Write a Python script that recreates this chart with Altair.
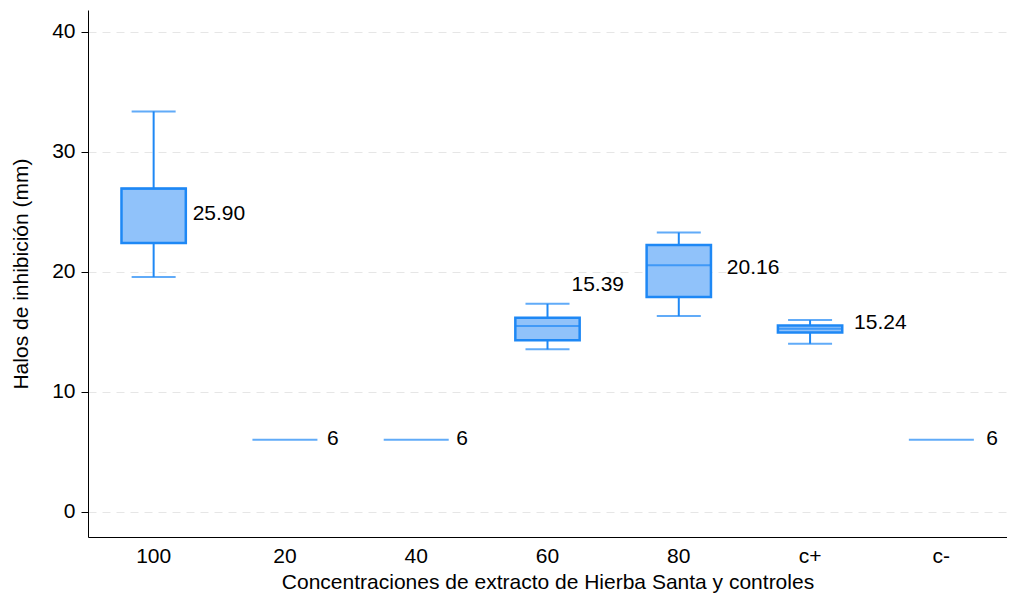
import altair as alt
import pandas as pd

groups = ["100", "20", "40", "60", "80", "c+", "c-"]
wlow = [19.55, 6, 6, 13.53, 16.3, 14.0, 6]
q1 = [22.4, 6, 6, 14.3, 17.9, 14.94, 6]
med = [26.9, 6, 6, 15.47, 20.54, 15.24, 6]
q3 = [26.94, 6, 6, 16.16, 22.23, 15.52, 6]
whigh = [33.35, 6, 6, 17.32, 23.26, 15.97, 6]
has_box = [True, False, False, True, True, True, False]

label_text = ["25.90", "6", "6", "15.39", "20.16", "15.24", "6"]
label_y = [24.8, 6.1, 6.1, 18.9, 20.3, 15.7, 6.1]
label_dx = [39, 42, 40, 24, 48, 44, 45]

df = pd.DataFrame({"g": groups, "lo": wlow, "q1": q1, "med": med, "q3": q3,
                   "hi": whigh, "box": has_box})
lab = pd.DataFrame({"g": groups, "t": label_text, "y": label_y})

FONT = "Liberation Sans"
FS = 21
BLUE = "#1e88f5"
FILL = "#90c2fa"

xs = alt.X("g:N", sort=groups)
x = alt.X("g:N", sort=groups, title="Concentraciones de extracto de Hierba Santa y controles",
          scale=alt.Scale(paddingInner=0, paddingOuter=0),
          axis=alt.Axis(labelAngle=0, ticks=False, grid=False, domainColor="black",
                        labelFontSize=FS, titleFontSize=FS, labelPadding=8, titlePadding=5,
                        labelColor="black", titleColor="black", titleFontWeight="normal"))
yscale = alt.Scale(domain=[-2.1, 41.8], nice=False, zero=False)
yax = alt.Axis(values=[0, 10, 20, 30, 40], grid=True, gridDash=[8, 6], gridColor="#e6e6e6",
               domainColor="black", tickColor="black", tickSize=7, labelFontSize=FS,
               titleFontSize=FS, labelPadding=6, titlePadding=20, labelColor="black",
               titleColor="black", titleFontWeight="normal")

boxes = df[df["box"]]
base_b = alt.Chart(boxes)
whisk = base_b.mark_rule(color=BLUE, strokeWidth=2).encode(
    x=x, y=alt.Y("lo:Q", scale=yscale, axis=yax, title="Halos de inhibición (mm)"), y2="hi:Q")
caps_lo = base_b.mark_tick(color=BLUE, size=44, thickness=2, orient="horizontal").encode(
    x=xs, y="lo:Q")
caps_hi = base_b.mark_tick(color=BLUE, size=44, thickness=2, orient="horizontal").encode(
    x=xs, y="hi:Q")
box = base_b.mark_bar(fill=FILL, stroke=BLUE, strokeWidth=2.5, width={"band": 0.49}).encode(
    x=xs, y="q1:Q", y2="q3:Q")
median = alt.Chart(df).mark_tick(color=BLUE, size=65, thickness=2, orient="horizontal").encode(
    x=xs, y="med:Q")

layers = [whisk, caps_lo, caps_hi, box, median]
for i in range(len(groups)):
    layers.append(
        alt.Chart(lab.iloc[[i]]).mark_text(align="left", baseline="middle", fontSize=FS,
                                           font=FONT, color="black", dx=label_dx[i])
        .encode(x=xs, y="y:Q", text="t:N")
    )

chart = alt.layer(*layers).properties(
    width=919, height=527, autosize=alt.AutoSizeParams(type="none"),
    padding={"left": 80, "top": 2, "right": 0, "bottom": 57}
).configure(font=FONT).configure_view(stroke=None)

chart.save("out.html", embed_options={"renderer": "svg", "actions": False})
